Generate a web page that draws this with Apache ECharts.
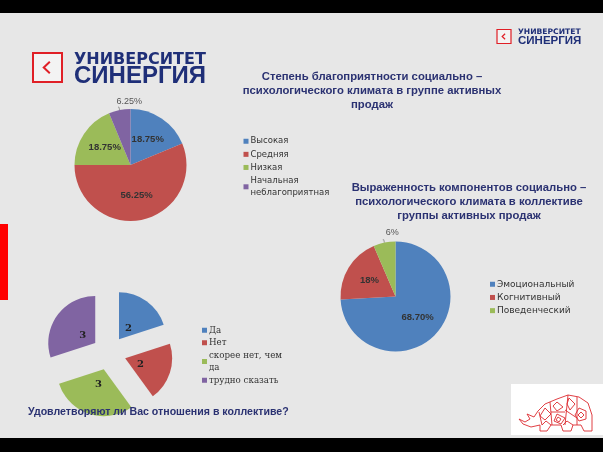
<!DOCTYPE html>
<html><head><meta charset="utf-8">
<style>html,body{margin:0;padding:0;background:#e7e7e7}#c{width:603px;height:452px}</style>
<script src="https://cdn.jsdelivr.net/npm/echarts@6/dist/echarts.min.js"></script>
</head><body><div id="c"></div>
<script>
const climateNames = ['Высокая','Средняя','Низкая','Начальная\nнеблагоприятная'];
const climateValues = [18.75,56.25,18.75,6.25];
const climateLabels = ['18.75%','56.25%','18.75%','6.25%'];
const componentNames = ['Эмоциональный','Когнитивный','Поведенческий'];
const componentValues = [68.7,18,6];
const componentLabels = ['68.70%','18%','6%'];
const answerNames = ['Да','Нет','скорее нет, чем\nда','трудно сказать'];
const answerValues = [2,2,3,3];
const colors = ['#4f81bd','#c0504d','#9bbb59','#8064a2'];
const answerLabelShift = [[-6,11],[-10,-2],[3,-10],[9,8]];
const navy = '#2b3272';
const LOGO = '#1f2f78', RED = '#e01f26';

function pieItems(names, values, labels, outsideIndex) {
  return names.map((n,i)=>({
    name:n, value:values[i],
    itemStyle:{color:colors[i]},
    label: i===outsideIndex
      ? {position:'outside', formatter:labels[i], color:'#555', fontSize:9, fontWeight:'normal', distanceToLabelLine:1}
      : {position:'inside', formatter:labels[i]},
    labelLine: {show:i===outsideIndex, length:3, length2:1, lineStyle:{color:'#999',width:1}}
  }));
}
function legend(names, left, top, font, size, gap, color) {
  return {data:names, left, top, orient:'vertical', icon:'rect', itemWidth:5, itemHeight:5, itemGap:gap,
    padding:0, selectedMode:false,
    textStyle:{fontFamily:font, fontSize:size, color, padding:[0,0,0,-3], lineHeight:12.5}};
}
const rhinoShapes = [
  [[4,31],[10,34],[15,31],[12,26],[19,29],[23,23],[30,16],[42,11],[53,7],[64,9],[73,15],[77,27],[77,43],[69,43],[66,37],[58,37],[56,43],[48,43],[46,37],[36,37],[32,43],[25,43],[25,37],[16,39],[8,36],[4,31]],
  [[24,24],[27,37]],[[35,14],[37,37]],[[53,7],[50,37]],[[62,9],[62,37]],[[36,24],[50,24]],[[50,22],[62,30]],
  [[30,20],[36,26],[30,32],[25,28],[30,20]],[[42,26],[50,30],[46,36],[39,33],[42,26]],[[64,20],[71,23],[71,31],[64,33],[60,27],[64,20]],
  [[42,14],[48,19],[42,23],[38,18],[42,14]],[[54,10],[60,16],[55,22],[52,16],[54,10]],[[66,24],[69,27],[66,30],[63,27],[66,24]],[[43,29],[46,31],[44,34],[41,32],[43,29]],[[27,37],[31,33],[36,37]],[[48,37],[52,33],[58,37]]
];
function logo(x,y,sq,f1,f2,gapY,tx,lw){
  return [
    {type:'rect',shape:{x,y,width:sq,height:sq},style:{fill:'#f3f3f3',stroke:RED,lineWidth:lw}},
    {type:'polyline',shape:{points:[[x+sq*0.58,y+sq*0.3],[x+sq*0.37,y+sq*0.5],[x+sq*0.58,y+sq*0.7]]},style:{fill:'none',stroke:RED,lineWidth:lw}},
    {type:'text',x:tx,y:y-1,style:{text:'УНИВЕРСИТЕТ',fill:LOGO,font:`bold ${f1}px "DejaVu Sans"`}},
    {type:'text',x:tx,y:y+gapY,style:{text:'СИНЕРГИЯ',fill:LOGO,font:`bold ${f2}px "Liberation Sans"`}}
  ];
}
function title(text,x,y,size){
  return {type:'text',x,y,z:20,style:{text,fill:navy,font:`bold ${size}px "Liberation Sans"`,align:'center',lineHeight:14}};
}
const pieLabel = {color:'#333',fontSize:9.5,fontFamily:'"Liberation Sans"',fontWeight:'bold'};
const chart = echarts.init(document.getElementById('c'),null,{renderer:'canvas'});
chart.setOption({
  animation:false, backgroundColor:'#e7e7e7', color:colors,
  legend:[
    legend(climateNames,243.5,135,'"DejaVu Sans"',8.5,0.6,'#333'),
    legend(componentNames,490,278,'"DejaVu Sans"',9,0.7,'#333'),
    legend(answerNames,202,324,'"DejaVu Serif"',8.7,0,'#333')
  ],
  series:[
    {type:'pie',center:[130.5,165],radius:56,startAngle:90,clockwise:true,label:pieLabel,
     labelLayout:p=>p.dataIndex===3?{dx:25,dy:-6}:{},
     data:pieItems(climateNames,climateValues,climateLabels,3)},
    {type:'pie',center:[395.5,296.5],radius:55,startAngle:90,clockwise:true,label:pieLabel,
     labelLayout:p=>p.dataIndex===2?{dx:17,dy:-7}:{},
     data:pieItems(componentNames,componentValues,componentLabels,2)},
    {type:'pie',center:[109,353],radius:47,startAngle:90,clockwise:true,
     selectedMode:'multiple',selectedOffset:17,
     label:{position:'inside',color:'#222',fontSize:10,fontWeight:'bold',fontFamily:'"DejaVu Serif"'},
     labelLine:{show:false},
     labelLayout:p=>({dx:answerLabelShift[p.dataIndex][0],dy:answerLabelShift[p.dataIndex][1]}),
     data:answerNames.map((n,i)=>({name:n,value:answerValues[i],selected:true,itemStyle:{color:colors[i]},label:{formatter:String(answerValues[i])}}))}
  ],
  graphic:{elements:[
    {type:'rect',z:10,shape:{x:0,y:0,width:603,height:13},style:{fill:'#000'}},
    {type:'rect',z:10,shape:{x:0,y:438,width:603,height:14},style:{fill:'#000'}},
    {type:'rect',z:10,shape:{x:0,y:224,width:8,height:76},style:{fill:'#f00'}},
    ...logo(33,53,29,16,24,11,74,2),
    ...logo(497,29.5,14,7.6,11.5,5.5,518,1.2),
    title('Степень благоприятности социально –\nпсихологического климата в группе активных\nпродаж',372,70,11.3),
    title('Выраженность компонентов социально –\nпсихологического климата в коллективе\nгруппы активных продаж',469,181,11.3),
    {type:'text',x:28,y:407,z:20,style:{text:'Удовлетворяют ли Вас отношения в коллективе?',fill:navy,font:'bold 10.6px "Liberation Sans"'}},
    {type:'rect',shape:{x:511,y:384,width:92,height:51},style:{fill:'#fff'}},
    ...rhinoShapes.map(points=>({type:'polyline',x:515,y:388,shape:{points},style:{fill:'none',stroke:'#dd2a30',lineWidth:0.9}}))
  ]}
});
</script></body></html>
